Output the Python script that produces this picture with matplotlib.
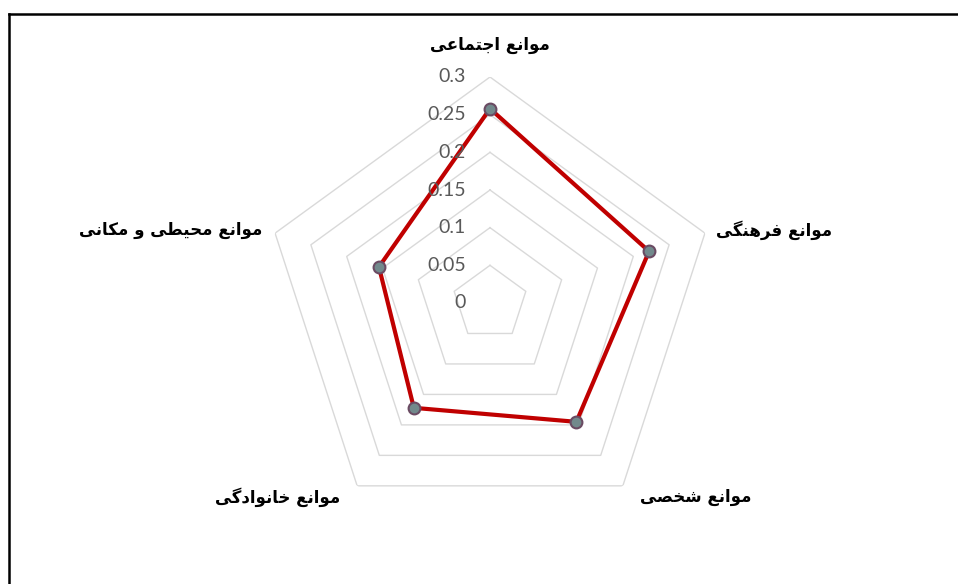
import numpy as np
import matplotlib
matplotlib.use("Agg")
import matplotlib.pyplot as plt
from matplotlib.lines import Line2D

# category labels, clockwise from the top
categories = ["موانع اجتماعی", "موانع فرهنگی", "موانع شخصی", "موانع خانوادگی", "موانع محیطی و مکانی"]
values = [0.258, 0.222, 0.195, 0.172, 0.155]
rings = [0.05, 0.1, 0.15, 0.2, 0.25, 0.3]
tick_labels = ["0", "0.05", "0.1", "0.15", "0.2", "0.25", "0.3"]
tick_values = [0, 0.05, 0.1, 0.15, 0.2, 0.25, 0.3]

# simple arabic/persian shaping: (isolated, final, initial, medial)
FORMS = {
    "ا": (0xFE8D, 0xFE8E, None, None),
    "د": (0xFEA9, 0xFEAA, None, None),
    "ر": (0xFEAD, 0xFEAE, None, None),
    "و": (0xFEED, 0xFEEE, None, None),
    "ت": (0xFE95, 0xFE96, 0xFE97, 0xFE98),
    "ج": (0xFE9D, 0xFE9E, 0xFE9F, 0xFEA0),
    "ح": (0xFEA1, 0xFEA2, 0xFEA3, 0xFEA4),
    "خ": (0xFEA5, 0xFEA6, 0xFEA7, 0xFEA8),
    "ش": (0xFEB5, 0xFEB6, 0xFEB7, 0xFEB8),
    "ص": (0xFEB9, 0xFEBA, 0xFEBB, 0xFEBC),
    "ط": (0xFEC1, 0xFEC2, 0xFEC3, 0xFEC4),
    "ع": (0xFEC9, 0xFECA, 0xFECB, 0xFECC),
    "ف": (0xFED1, 0xFED2, 0xFED3, 0xFED4),
    "م": (0xFEE1, 0xFEE2, 0xFEE3, 0xFEE4),
    "ن": (0xFEE5, 0xFEE6, 0xFEE7, 0xFEE8),
    "ه": (0xFEE9, 0xFEEA, 0xFEEB, 0xFEEC),
    "ک": (0xFB8E, 0xFB8F, 0xFB90, 0xFB91),
    "گ": (0xFB92, 0xFB93, 0xFB94, 0xFB95),
    "ی": (0xFBFC, 0xFBFD, 0xFBFE, 0xFBFF),
}


def shape(text):
    out = []
    for i, ch in enumerate(text):
        if ch not in FORMS:
            out.append(ch)
            continue
        prev = text[i - 1] if i > 0 else ""
        nxt = text[i + 1] if i < len(text) - 1 else ""
        dual = FORMS[ch][2] is not None
        join_prev = prev in FORMS and FORMS[prev][2] is not None
        join_next = dual and nxt in FORMS
        f = FORMS[ch]
        if join_prev and join_next:
            out.append(chr(f[3]))
        elif join_prev:
            out.append(chr(f[1]))
        elif join_next:
            out.append(chr(f[2]))
        else:
            out.append(chr(f[0]))
    return "".join(out)[::-1]


W, H = 958, 584
fig = plt.figure(figsize=(W / 100, H / 100), dpi=100)
fig.patch.set_facecolor("white")

# border on left and top like the original crop
fig.add_artist(Line2D([9 / W, 9 / W], [0, 1 - 14 / H], color="black", lw=1.8))
fig.add_artist(Line2D([9 / W, 1], [1 - 14 / H, 1 - 14 / H], color="black", lw=1.8))

cx, cy, R = 490, 303, 226
ax = fig.add_axes([(cx - R) / W, (H - cy - R) / H, 2 * R / W, 2 * R / H], projection="polar")
ax.set_theta_offset(np.pi / 2)
ax.set_theta_direction(-1)
ax.set_ylim(0, 0.3)
ax.grid(False)
ax.set_xticks([])
ax.set_yticks([])
ax.spines["polar"].set_visible(False)
ax.patch.set_alpha(0)

n = len(categories)
theta = np.linspace(0, 2 * np.pi, n, endpoint=False)
theta_closed = np.append(theta, theta[0])

for r in rings:
    ax.plot(theta_closed, [r] * (n + 1), color="#d9d9d9", lw=1.0, zorder=1)

vals = values + values[:1]
ax.plot(theta_closed, vals, color="#c00000", lw=3.0, zorder=3)
ax.plot(theta, values, "o", ms=8.5, mfc="#72898c", mec="#6b4b63", mew=1.5, zorder=4)

for t, lab in zip(tick_values, tick_labels):
    ax.annotate(lab, xy=(0, t), xytext=(-24, 0), textcoords="offset pixels",
                ha="right", va="center", fontsize=14, color="#595959",
                family="Lato", annotation_clip=False)

offsets = [(0, 32, "center"), (11, 3, "left"), (17, -11, "left"),
           (-17, -11, "right"), (-13, 3, "right")]
for th, lab, (dx, dy, ha) in zip(theta, categories, offsets):
    ax.annotate(shape(lab), xy=(th, 0.3), xytext=(dx, dy), textcoords="offset pixels",
                ha=ha, va="center", fontsize=12, fontweight="bold", color="black",
                family="DejaVu Sans", annotation_clip=False)

fig.savefig("out.png", dpi=100, facecolor="white")
